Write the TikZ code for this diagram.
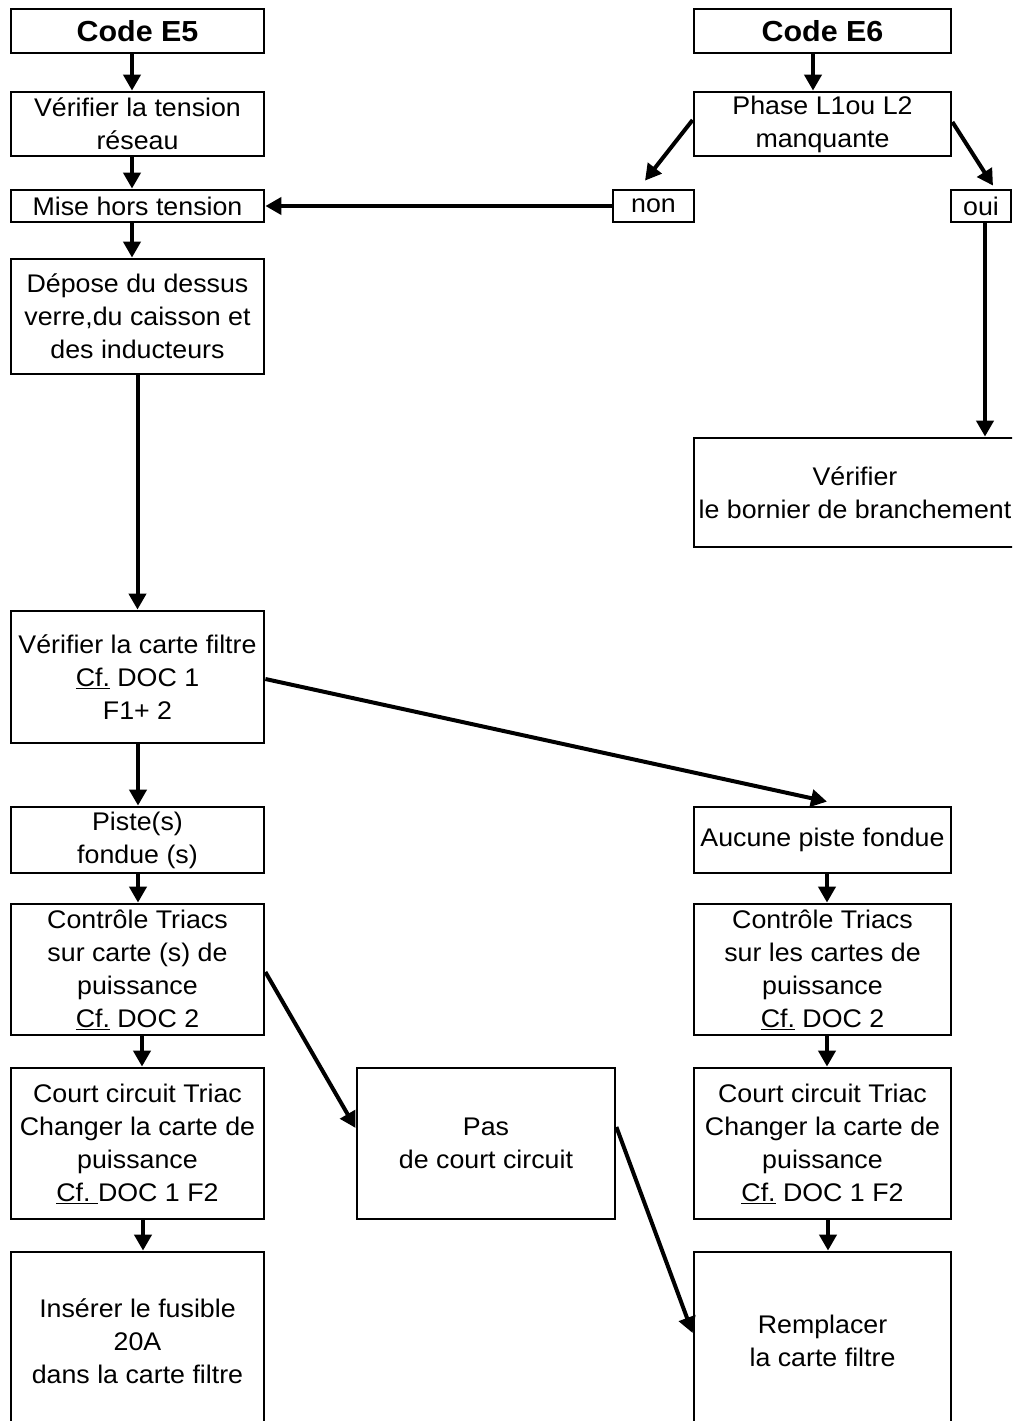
\documentclass[tikz,border=0pt]{standalone}
\usepackage{fontspec}
\setmainfont{Liberation Sans}[FakeStretch=1.05]
\usetikzlibrary{arrows.meta,calc}
\begin{document}
\begin{tikzpicture}[x=1pt,y=-1pt,
  box/.style={draw,line width=2.8pt,inner sep=0pt,align=center,
    font=\fontsize{25.5}{33}\selectfont,minimum width=253pt},
  rbox/.style={box,minimum width=257pt},
  ttl/.style={font=\fontsize{29}{33}\selectfont\bfseries},
  arr/.style={line width=4pt,-{Triangle[width=17pt,length=16pt]}}]
\useasboundingbox (0,0) rectangle (1012,1421);
\fill[white] (0,0) rectangle (1012,1421);
\clip (0,0) rectangle (1012,1421);

% left column
\node[box,ttl,minimum height=44pt] (e5) at (137.5,31) {Code E5};
\node[box,minimum height=64pt] (vt) at (137.5,124) {Vérifier la tension\\réseau};
\node[box,minimum height=32pt] (mise) at (137.5,206) {Mise hors tension};
\node[box,minimum height=115pt] (dep) at (137.5,316.5) {Dépose du dessus\\verre,du caisson et\\des inducteurs};
\node[box,minimum height=132pt] (vcf) at (137.5,677) {Vérifier la carte filtre\\\underline{Cf.} DOC 1\\F1+ 2};
\node[box,minimum height=66pt] (piste) at (137.5,840) {Piste(s)\\fondue (s)};
\node[box,minimum height=131pt] (ctl) at (137.5,969.5) {Contrôle Triacs\\sur carte (s) de\\puissance\\\underline{Cf.} DOC 2};
\node[box,minimum height=151pt] (cc) at (137.5,1143.5) {Court circuit Triac\\Changer la carte de\\puissance\\\underline{Cf.\ }DOC 1 F2};
\node[box,minimum height=178pt] (ins) at (137.5,1341) {Insérer le fusible\\20A\\dans la carte filtre};

% middle
\node[box,minimum width=258pt,minimum height=151pt] (pas) at (486,1143.5) {Pas\\de court circuit};

% right column
\node[rbox,ttl,minimum height=44pt] (e6) at (822.5,31) {Code E6};
\node[rbox,minimum height=64pt] (ph) at (822.5,124) {Phase L1ou L2\\manquante};
\node[box,minimum width=81pt,minimum height=32pt] (non) at (653.5,206) {non};
\node[box,minimum width=60pt,minimum height=32pt] (oui) at (981,206) {oui};
\node[box,minimum width=322pt,minimum height=109pt] (bor) at (855,492.5) {Vérifier\\le bornier de branchement};
\node[rbox,minimum height=66pt] (auc) at (822.5,840) {Aucune piste fondue};
\node[rbox,minimum height=131pt] (ctr) at (822.5,969.5) {Contrôle Triacs\\sur les cartes de\\puissance\\\underline{Cf.} DOC 2};
\node[rbox,minimum height=151pt] (ccr) at (822.5,1143.5) {Court circuit Triac\\Changer la carte de\\puissance\\\underline{Cf.} DOC 1 F2};
\node[rbox,minimum height=178pt] (rem) at (822.5,1341) {Remplacer\\la carte filtre};

% vertical arrows left
\draw[arr] ($(e5.south)+(-5.5,0)$) -- ($(vt.north)+(-5.5,0)$);
\draw[arr] ($(vt.south)+(-5.5,0)$) -- ($(mise.north)+(-5.5,0)$);
\draw[arr] ($(mise.south)+(-5.5,0)$) -- ($(dep.north)+(-5.5,0)$);
\draw[arr] (dep.south) -- (vcf.north);
\draw[arr] ($(vcf.south)+(0.5,0)$) -- ($(piste.north)+(0.5,0)$);
\draw[arr] ($(piste.south)+(0.5,0)$) -- ($(ctl.north)+(0.5,0)$);
\draw[arr] ($(ctl.south)+(4.5,0)$) -- ($(cc.north)+(4.5,0)$);
\draw[arr] ($(cc.south)+(5.5,0)$) -- ($(ins.north)+(5.5,0)$);

% right column arrows
\draw[arr] ($(e6.south)+(-9.5,0)$) -- ($(ph.north)+(-9.5,0)$);
\draw[arr] ($(ph.west)+(0,-4)$) -- ($(non.north)+(-8.5,-8)$);
\draw[arr] ($(ph.east)+(0,-2)$) -- ($(oui.north)+(12,-3)$);
\draw[arr] (non.west) -- (mise.east);
\coordinate (o1) at ($(oui.south)+(4,0)$);
\draw[arr] (o1) -- (o1 |- bor.north);
\draw[arr] ($(auc.south)+(4.5,0)$) -- ($(ctr.north)+(4.5,0)$);
\draw[arr] ($(ctr.south)+(4.5,0)$) -- ($(ccr.north)+(4.5,0)$);
\draw[arr] ($(ccr.south)+(5.5,0)$) -- ($(rem.north)+(5.5,0)$);

% diagonal arrows
\draw[arr] ($(vcf.east)+(0,2)$) -- ($(auc.north)+(4.5,-4)$);
\draw[arr] ($(ctl.east)+(0,2.5)$) -- ($(pas.west)+(0,-15.5)$);
\draw[arr] ($(pas.east)+(0,-16.5)$) -- ($(rem.west)+(0,-8)$);
\end{tikzpicture}
\end{document}
